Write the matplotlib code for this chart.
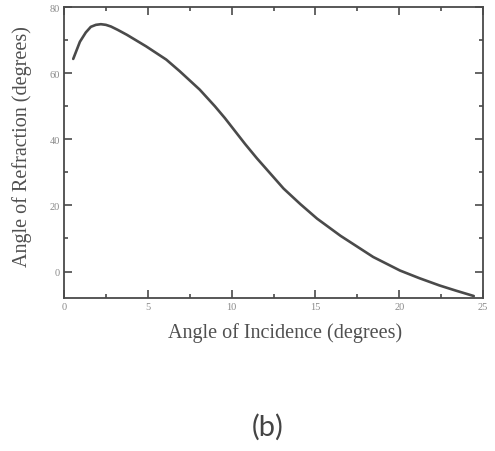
import matplotlib
matplotlib.use("Agg")
import matplotlib.pyplot as plt
from matplotlib.ticker import MultipleLocator

incidence = [0.55, 0.95, 1.3, 1.6, 1.9, 2.2, 2.5, 2.8, 3.2, 3.75, 4.9, 6.1, 6.9,
             8.1, 9.0, 9.6, 10.2, 10.8, 11.5, 12.3, 13.1, 14.1, 15.1, 16.5,
             18.45, 20.05, 21.2, 22.4, 23.4, 24.45]
refraction = [64.3, 69.5, 72.3, 74.0, 74.6, 74.8, 74.6, 74.1, 73.1, 71.6, 68.1,
              64.1, 60.6, 55.0, 50.0, 46.4, 42.5, 38.6, 34.3, 29.7, 25.1, 20.4,
              16.0, 10.8, 4.4, 0.3, -2.0, -4.2, -5.8, -7.4]
xticks = [0, 5, 10, 15, 20, 25]
yticks = [0, 20, 40, 60, 80]

fig = plt.figure(figsize=(4.95, 4.52), dpi=100)
ax = fig.add_axes([64/495, 1-299/452, (483-64)/495, (299-8)/452])
dark = "#4a4a4a"
ax.plot(incidence, refraction, color=dark, lw=1.9, solid_capstyle="round")
ax.set_xlim(0, 25)
ax.set_ylim(-8, 80)
ax.set_xticks(xticks)
ax.set_yticks(yticks)
ax.xaxis.set_minor_locator(MultipleLocator(2.5))
ax.yaxis.set_minor_locator(MultipleLocator(10))
for s in ax.spines.values():
    s.set_color(dark)
    s.set_linewidth(1.3)
ax.tick_params(which="both", direction="in", top=True, right=True,
               color=dark, width=1.2, labelcolor="#8a8a8a",
               labelsize=7.5, labelfontfamily="Liberation Serif")
ax.tick_params(which="major", length=6)
ax.tick_params(which="minor", length=3)
ax.tick_params(axis="x", pad=3)
ax.tick_params(axis="y", pad=3)

fig.text(285/495, 1-333/452, "Angle of Incidence (degrees)", ha="center",
         va="center", fontsize=14.5, family="Liberation Serif", color="#505050")
fig.text(22/495, 1-147/452, "Angle of Refraction (degrees)", ha="center",
         va="center", rotation=90, fontsize=14.5, family="Liberation Serif",
         color="#505050")
fig.text(268/495, 1-427/452, "(b)", ha="center", va="center", fontsize=21,
         family="Lato", color="#444444")

fig.savefig("out.png", dpi=100, facecolor="white")
